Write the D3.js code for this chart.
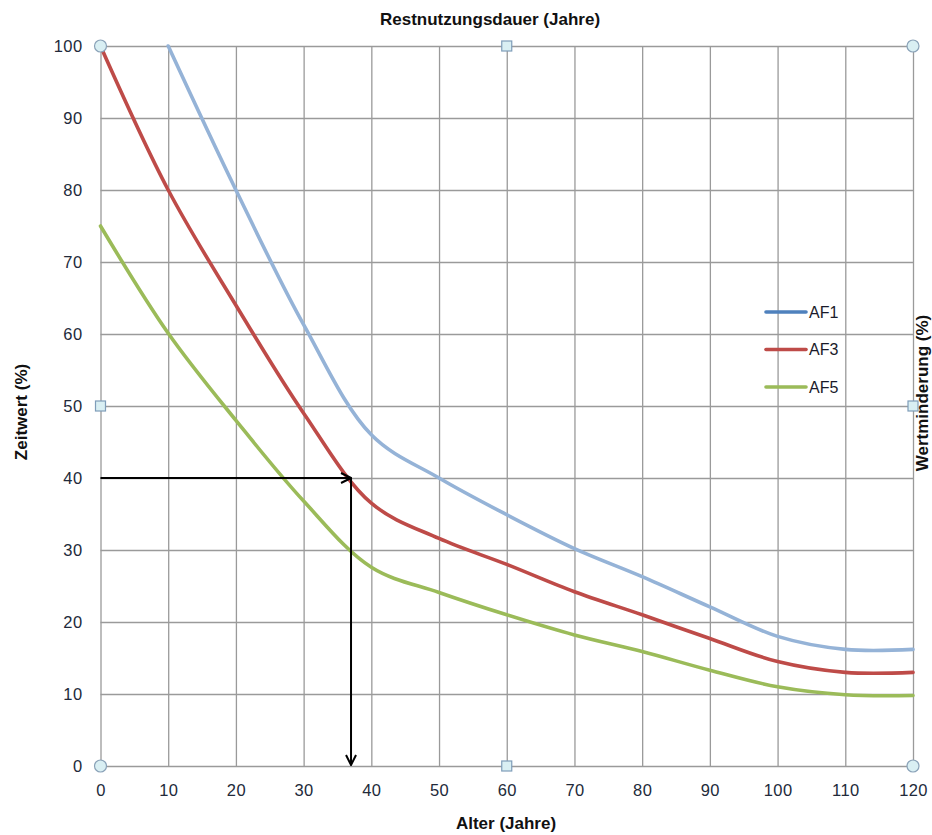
<!DOCTYPE html>
<html lang="de">
<head>
<meta charset="UTF-8">
<title>Zeitwert</title>
<script src="https://cdnjs.cloudflare.com/ajax/libs/d3/7.8.2/d3.min.js"></script>
<style>
    body { margin: 0; background: #fff; }
    svg text { font-family: "Liberation Sans", Arial, sans-serif; }
    .tick text { fill: #222a3a; font-size: 16.5px; letter-spacing: 0.4px; }
    .grid line { stroke: #9a9a9a; stroke-width: 1.3; }
    .grid path { display: none; }
    .title { font-weight: bold; font-size: 17px; fill: #111; }
</style>
</head>
<body>
<div class="container"></div>
<script>
    // data
    const ages = [0, 10, 20, 30, 40, 50, 60, 70, 80, 90, 100, 110, 120];
    const af1 = [null, 100, 80, 61.3, 46, 40, 34.9, 30.2, 26.3, 22.1, 18, 16.2, 16.2];
    const af3 = [100, 80, 64, 49, 36.5, 31.6, 28, 24.2, 21, 17.7, 14.5, 13, 13];
    const af5 = [75, 60.1, 48, 36.8, 27.6, 24.1, 21, 18.2, 15.9, 13.3, 11, 9.9, 9.8];
    const seriesNames = ['AF1', 'AF3', 'AF5'];
    const xTicks = [0, 10, 20, 30, 40, 50, 60, 70, 80, 90, 100, 110, 120];
    const yTicks = [0, 10, 20, 30, 40, 50, 60, 70, 80, 90, 100];
    const readAge = 37;
    const readValue = 40;

    const width = 932;
    const height = 835;
    const plotLeft = 100.5, plotRight = 913, plotTop = 46, plotBottom = 766;

    const lineColors = ['#95b3d7', '#be4b48', '#9bbb59'];
    const legendColors = ['#4f81bd', '#be4b48', '#9bbb59'];

    const svg = d3.select('.container').append('svg')
        .attr('width', width).attr('height', height);

    const x = d3.scaleLinear().domain([0, 120]).range([plotLeft, plotRight]);
    const y = d3.scaleLinear().domain([0, 100]).range([plotBottom, plotTop]);

    // gridlines
    svg.append('g').attr('class', 'grid')
        .attr('transform', `translate(0,${plotBottom})`)
        .call(d3.axisBottom(x).tickValues(xTicks).tickSize(-(plotBottom - plotTop)).tickFormat(''));
    svg.append('g').attr('class', 'grid')
        .attr('transform', `translate(${plotLeft},0)`)
        .call(d3.axisLeft(y).tickValues(yTicks).tickSize(-(plotRight - plotLeft)).tickFormat(''));

    // tick labels
    const xAxis = svg.append('g')
        .attr('transform', `translate(0,${plotBottom})`)
        .call(d3.axisBottom(x).tickValues(xTicks).tickSize(0).tickPadding(18));
    const yAxis = svg.append('g')
        .attr('transform', `translate(${plotLeft},0)`)
        .call(d3.axisLeft(y).tickValues(yTicks).tickSize(0).tickPadding(18));
    xAxis.select('.domain').remove();
    yAxis.select('.domain').remove();
    xAxis.attr('font-family', null).attr('font-size', null);
    yAxis.attr('font-family', null).attr('font-size', null);

    // curves
    const line = d3.line()
        .defined(d => d.v != null)
        .x(d => x(d.a))
        .y(d => y(d.v))
        .curve(d3.curveCatmullRom.alpha(0.5));

    [af1, af3, af5].forEach((vals, i) => {
        const pts = ages.map((a, j) => ({a: a, v: vals[j]}));
        svg.append('path')
            .datum(pts)
            .attr('d', line)
            .attr('fill', 'none')
            .attr('stroke', lineColors[i])
            .attr('stroke-width', 3.6)
            .attr('stroke-linecap', 'round');
    });

    // reading arrows
    svg.append('defs').append('marker')
        .attr('id', 'arrow')
        .attr('viewBox', '0 0 12 12')
        .attr('refX', 11).attr('refY', 6)
        .attr('markerWidth', 12).attr('markerHeight', 12)
        .attr('markerUnits', 'userSpaceOnUse')
        .attr('orient', 'auto')
        .append('path')
        .attr('d', 'M1,1 L11,6 L1,11')
        .attr('fill', 'none')
        .attr('stroke', '#000')
        .attr('stroke-width', 2);

    svg.append('line')
        .attr('x1', x(0)).attr('y1', y(readValue))
        .attr('x2', x(readAge)).attr('y2', y(readValue))
        .attr('stroke', '#000').attr('stroke-width', 2)
        .attr('marker-end', 'url(#arrow)');
    svg.append('line')
        .attr('x1', x(readAge)).attr('y1', y(readValue))
        .attr('x2', x(readAge)).attr('y2', y(0) - 1)
        .attr('stroke', '#000').attr('stroke-width', 2)
        .attr('marker-end', 'url(#arrow)');

    // selection handles
    const circles = [[0, 0], [0, 100], [120, 0], [120, 100]];
    const squares = [[60, 0], [60, 100], [0, 50], [120, 50]];
    svg.selectAll('.hc').data(circles).enter().append('circle')
        .attr('cx', d => x(d[0])).attr('cy', d => y(d[1]))
        .attr('r', 6)
        .attr('fill', '#d9eff3').attr('stroke', '#8aa2b8').attr('stroke-width', 1.2);
    svg.selectAll('.hs').data(squares).enter().append('rect')
        .attr('x', d => x(d[0]) - 5).attr('y', d => y(d[1]) - 5)
        .attr('width', 10).attr('height', 10)
        .attr('fill', '#d9eff3').attr('stroke', '#7f9db9').attr('stroke-width', 1.2);

    // legend
    const legend = svg.append('g').attr('transform', 'translate(766,312)');
    seriesNames.forEach((name, i) => {
        const g = legend.append('g').attr('transform', `translate(0,${i * 37.5})`);
        g.append('line')
            .attr('x1', 0).attr('x2', 40)
            .attr('stroke', legendColors[i]).attr('stroke-width', 3.6)
            .attr('stroke-linecap', 'round');
        g.append('text')
            .attr('x', 43).attr('dy', '0.36em')
            .style('font-size', '16px').style('fill', '#1a1a2a')
            .text(name);
    });

    // titles
    svg.append('text').attr('class', 'title')
        .attr('x', 490).attr('y', 25).attr('text-anchor', 'middle')
        .text('Restnutzungsdauer  (Jahre)');
    svg.append('text').attr('class', 'title')
        .attr('x', 506).attr('y', 829).attr('text-anchor', 'middle')
        .text('Alter (Jahre)');
    svg.append('text').attr('class', 'title')
        .attr('transform', 'translate(27,412) rotate(-90)').attr('text-anchor', 'middle')
        .text('Zeitwert (%)');
    svg.append('text').attr('class', 'title')
        .attr('transform', 'translate(928,393) rotate(-90)').attr('text-anchor', 'middle')
        .text('Wertminderung (%)');
</script>
</body>
</html>
